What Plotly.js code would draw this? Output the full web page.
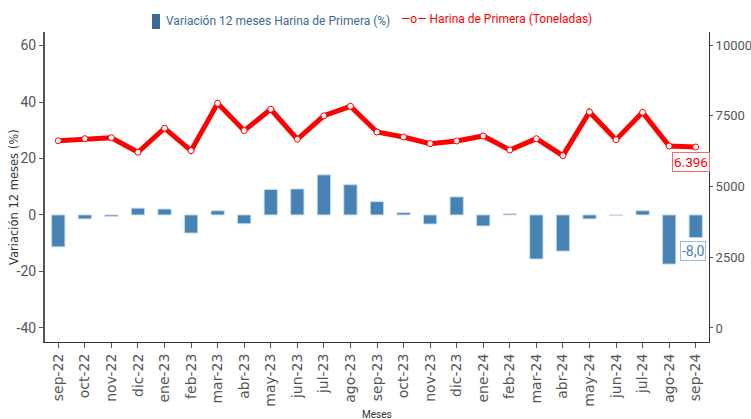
<!DOCTYPE html>
<html>
<head>
<meta charset="utf-8">
<script src="https://cdn.plot.ly/plotly-3.0.1.min.js"></script>
<style>
html,body{margin:0;padding:0;background:#fff;}
#chart{width:751px;height:419px;}
</style>
</head>
<body>
<div id="chart"></div>
<script>
const meses = ["sep-22","oct-22","nov-22","dic-22","ene-23","feb-23","mar-23","abr-23","may-23","jun-23","jul-23","ago-23","sep-23","oct-23","nov-23","dic-23","ene-24","feb-24","mar-24","abr-24","may-24","jun-24","jul-24","ago-24","sep-24"];
const variacion = [-11.3,-1.4,-0.5,2.4,2.1,-6.4,1.5,-3.1,9.0,9.2,14.2,10.7,4.7,0.8,-3.2,6.4,-3.9,0.4,-15.6,-12.8,-1.4,-0.2,1.5,-17.4,-8.0];
const toneladas = [6620,6690,6725,6210,7060,6265,7940,6975,7730,6670,7500,7835,6925,6750,6515,6610,6785,6290,6690,6090,7635,6655,7620,6430,6396];
const leftTicks = [-40,-20,0,20,40,60];
const leftTickLabels = ["-40","-20","0","20","40","60"];
const rightTicks = [0,2500,5000,7500,10000];
const rightTickLabels = ["0","2500","5000","7500","10000"];

const narrow = "Roboto, Liberation Sans, sans-serif";
const lastIdx = meses.length - 1;

const traces = [
  {type:"bar", x:meses, y:variacion, name:"Variación 12 meses Harina de Primera (%)",
   marker:{color:"#4682B4", line:{color:"rgba(200,220,240,0.9)", width:1}}, width:0.5,
   yaxis:"y", hoverinfo:"x+y"},
  {type:"scatter", mode:"lines+markers", x:meses, y:toneladas, name:"Harina de Primera (Toneladas)",
   line:{color:"#ff0000", width:5}, marker:{color:"#ffffff", size:6, line:{color:"#ff0000", width:1}},
   yaxis:"y2", hoverinfo:"x+y"}
];

const layout = {
  width:751, height:419,
  margin:{l:45, r:42, t:32, b:77},
  paper_bgcolor:"#ffffff", plot_bgcolor:"#ffffff",
  showlegend:false,
  xaxis:{type:"category", tickangle:-90, showgrid:false, zeroline:false,
    showline:true, linecolor:"#333", linewidth:1,
    ticks:"outside", ticklen:5, tickcolor:"#555",
    tickfont:{family:"DejaVu Sans, sans-serif", size:14, color:"#555"},
    range:[-0.5, 24.5]},
  yaxis:{range:[-45,64.8], tickvals:leftTicks, ticktext:leftTickLabels, showgrid:false, zeroline:false,
    showline:true, linecolor:"#555", linewidth:2,
    ticks:"outside", ticklen:4, tickcolor:"#555",
    tickfont:{family:narrow, size:14, color:"#555"}},
  yaxis2:{overlaying:"y", side:"right", range:[-495,10460], tickvals:rightTicks, ticktext:rightTickLabels,
    showgrid:false, zeroline:false, showline:true, linecolor:"#333", linewidth:1,
    ticks:"outside", ticklen:3, tickcolor:"#555",
    tickfont:{family:narrow, size:13, color:"#555"}},
  shapes:[
    {type:"rect", xref:"paper", yref:"paper", x0:(152-45)/664, x1:(160-45)/664, y0:(342-29)/310, y1:(342-14)/310,
     fillcolor:"#3d6896", line:{width:0}}
  ],
  annotations:[
    {xref:"paper", yref:"paper", x:(14-45)/664, y:(342-197)/310, xanchor:"center", yanchor:"middle", showarrow:false,
     textangle:-90, text:"Variación 12 meses (%)", font:{family:"DejaVu Sans, sans-serif", size:11.5, color:"#333"}},
    {xref:"paper", yref:"paper", x:(377-45)/664, y:(342-415)/310, xanchor:"center", yanchor:"middle", showarrow:false,
     text:"Meses", font:{family:narrow, size:10, color:"#333"}},
    {xref:"paper", yref:"paper", x:(164-45)/664, y:(342-21)/310, xanchor:"left", yanchor:"middle", showarrow:false,
     text:"Variación 12 meses Harina de Primera (%)", font:{family:narrow, size:12, color:"#3d6896"}},
    {xref:"paper", yref:"paper", x:(399-45)/664, y:(342-19)/310, xanchor:"left", yanchor:"middle", showarrow:false,
     text:"—o— Harina de Primera (Toneladas)", font:{family:narrow, size:12, color:"#ff0000"}},
    {xref:"x", yref:"y2", x:meses[lastIdx], y:toneladas[lastIdx], showarrow:false, yanchor:"top", yshift:-5, xshift:-5,
     text:"6.396", font:{family:narrow, size:13.5, color:"#ff0000"}, bgcolor:"#ffffff", bordercolor:"#ff6666", borderwidth:1, borderpad:1},
    {xref:"x", yref:"y", x:meses[lastIdx], y:variacion[lastIdx], showarrow:false, yanchor:"top", yshift:-3, xshift:-3,
     text:"-8,0", font:{family:narrow, size:14, color:"#4682B4"}, bgcolor:"#ffffff", bordercolor:"#9dbbd8", borderwidth:1, borderpad:1}
  ]
};

Plotly.newPlot("chart", traces, layout, {displayModeBar:false, staticPlot:true});
</script>
</body>
</html>
